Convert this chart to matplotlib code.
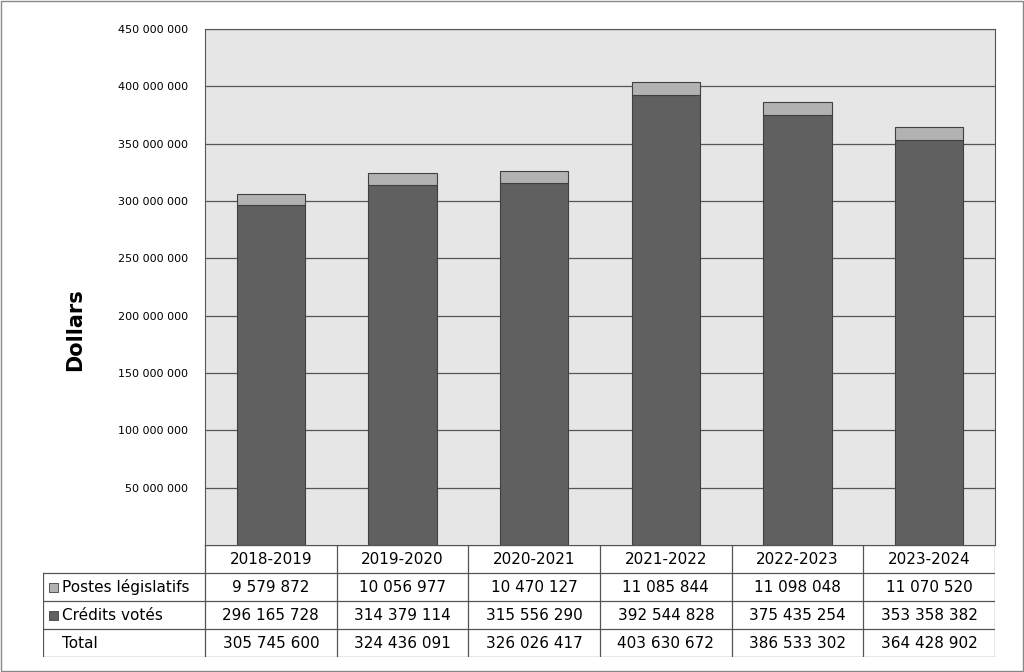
import matplotlib.pyplot as plt
from matplotlib.patches import Rectangle

years = ["2018-2019", "2019-2020", "2020-2021", "2021-2022", "2022-2023", "2023-2024"]
statutory = [9579872, 10056977, 10470127, 11085844, 11098048, 11070520]
voted = [296165728, 314379114, 315556290, 392544828, 375435254, 353358382]
total = [305745600, 324436091, 326026417, 403630672, 386533302, 364428902]

DARK = "#606060"
LIGHT = "#b2b2b2"
W, H = 1024, 672


def fmt(v):
    return f"{v:,}".replace(",", " ")


fig = plt.figure(figsize=(W / 100, H / 100), dpi=100)
fig.patches.append(Rectangle((1 / W, 1 / H), 1 - 2 / W, 1 - 2 / H, transform=fig.transFigure,
                             fill=False, edgecolor="#888888", linewidth=1))

# chart area
ax = fig.add_axes([205 / W, (H - 545) / H, 790 / W, (545 - 29) / H])
ax.set_facecolor("#e6e6e6")
x = range(len(years))
ax.bar(x, voted, width=0.52, color=DARK, edgecolor="#404040", linewidth=0.8, zorder=3)
ax.bar(x, statutory, bottom=voted, width=0.52, color=LIGHT, edgecolor="#404040", linewidth=0.8, zorder=3)
ax.set_xlim(-0.5, len(years) - 0.5)
ax.set_ylim(0, 450_000_000)
ticks = list(range(50_000_000, 450_000_001, 50_000_000))
ax.set_yticks(ticks)
ax.set_yticklabels([fmt(t) for t in ticks], fontsize=8)
ax.yaxis.grid(True, color="#555555", linewidth=0.9, zorder=1)
ax.set_xticks([])
ax.tick_params(axis="y", length=0, pad=12)
for s in ax.spines.values():
    s.set_color("#555555")
fig.text(75 / W, 1 - 330 / H, "Dollars", rotation=90, ha="center", va="center",
         fontsize=15, fontweight="bold")

# data table
tx = fig.add_axes([43 / W, 15 / H, 952 / W, 112 / H])
tx.set_xlim(43, 995)
tx.set_ylim(657, 545)
tx.axis("off")
col_w = 790 / 6
row_h = 28
lc = "#555555"
# horizontal lines
tx.plot([205, 995], [545, 545], color=lc, lw=0.9)
for r in range(1, 5):
    tx.plot([43, 995], [545 + r * row_h] * 2, color=lc, lw=0.9)
# vertical lines
tx.plot([43, 43], [545 + row_h, 657], color=lc, lw=0.9)
for c in range(7):
    xx = 205 + c * col_w
    tx.plot([xx, xx], [545, 657], color=lc, lw=0.9)

rows = [("Postes législatifs", statutory, LIGHT),
        ("Crédits votés", voted, DARK),
        ("Total", total, None)]
for c, yr in enumerate(years):
    tx.text(205 + (c + 0.5) * col_w, 545 + row_h / 2, yr, ha="center", va="center", fontsize=11)
for r, (name, vals, col) in enumerate(rows, start=1):
    yc = 545 + (r + 0.5) * row_h
    if col:
        tx.add_patch(Rectangle((49, yc - 4.5), 9, 9, facecolor=col, edgecolor="#404040", lw=0.6))
    tx.text(62, yc, name, ha="left", va="center", fontsize=11)
    for c, v in enumerate(vals):
        tx.text(205 + (c + 0.5) * col_w, yc, fmt(v), ha="center", va="center", fontsize=11)

fig.savefig("out.png", dpi=100)
